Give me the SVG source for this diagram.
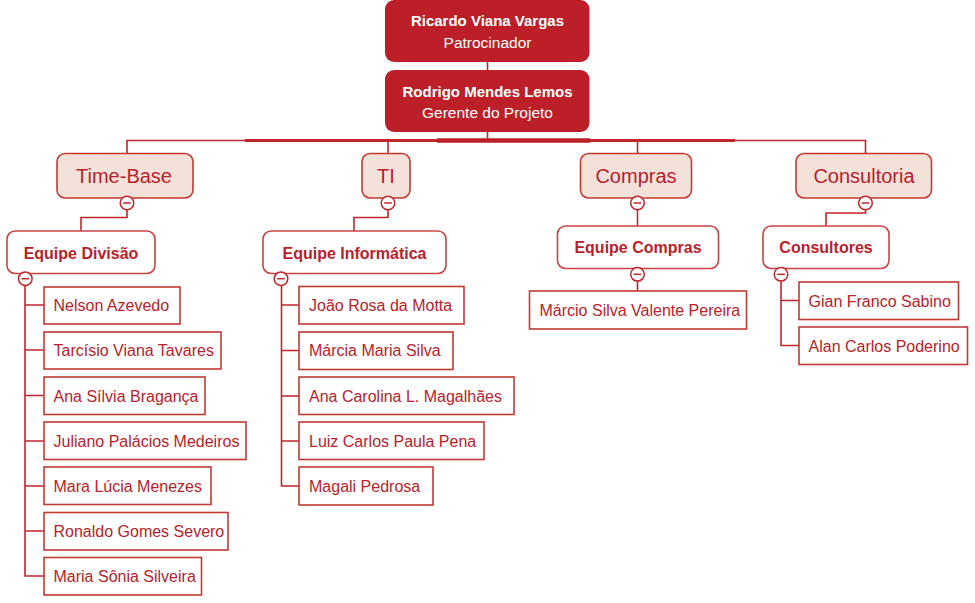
<svg xmlns="http://www.w3.org/2000/svg" width="975" height="603" viewBox="0 0 975 603">
<style>
text{font-family:"Liberation Sans",Arial,sans-serif}
.top rect{fill:#bc1f27;stroke:none}
.top text{fill:#fff;text-anchor:middle}
.tb{font-size:15px;font-weight:bold}
.tr{font-size:15.5px}
.l2 rect{fill:#f4e1da;stroke:#c23a32;stroke-width:1.6}
.l2 text{fill:#b8222a;font-size:20px;text-anchor:middle}
.l3 rect{fill:#fff;stroke:#c94444;stroke-width:1.6}
.l3 text{fill:#b8222a;font-size:16px;font-weight:bold;text-anchor:middle}
.leaf rect{fill:#fff;stroke:#c23a32;stroke-width:1.6}
.leaf text{fill:#b8222a;font-size:16px}
.ln{fill:none;stroke:#c0262c;stroke-width:1.6}
.tg{fill:#fff;stroke:#c0262c;stroke-width:1.5}
</style>
<defs>
<g id="minus"><circle r="6.8"/><path d="M-3.8 0H3.8"/></g>
</defs>
<g id="connectors">
<path class="ln" d="M487.5 62V70"/>
<path class="ln" d="M487.5 132V140"/>
<path class="ln" d="M127 153V140.5H865.5V153" stroke-width="2"/>
<path d="M245 140.5H735" stroke="#c0262c" stroke-width="3.2"/>
<path d="M437 140.5H590" stroke="#bc1f27" stroke-width="4.5"/>
<path class="ln" d="M388 140V153"/>
<path class="ln" d="M637.5 140V153"/>
<path class="ln" d="M127 210V217.5H81V231"/>
<path class="ln" d="M388 210V217.5H354V231"/>
<path class="ln" d="M637.5 210V226"/>
<path class="ln" d="M865.5 210V213H826V226"/>
<path class="ln" d="M637.5 281V291"/>
<path class="ln" d="M25 285V576H44M25 305H44M25 350H44M25 395.5H44M25 441H44M25 486H44M25 531H44"/>
<path class="ln" d="M281.5 285V486H299M281.5 305H299M281.5 350.5H299M281.5 396H299M281.5 441H299"/>
<path class="ln" d="M781 281V345.5H799M781 300.5H799"/>
</g>
<g id="n-ricardo" class="top"><rect x="385" y="0" width="204.5" height="62" rx="9"/><text class="tb" x="487.5" y="26">Ricardo Viana Vargas</text><text class="tr" x="487.5" y="47.5">Patrocinador</text></g>
<g id="n-rodrigo" class="top"><rect x="385" y="70" width="204.5" height="62" rx="9"/><text class="tb" x="487.5" y="97">Rodrigo Mendes Lemos</text><text class="tr" x="487.5" y="117.5">Gerente do Projeto</text></g>
<g id="n-timebase" class="l2"><rect x="57" y="153.5" width="136" height="44.5" rx="8"/><text x="124" y="182.5">Time-Base</text></g>
<g id="n-ti" class="l2"><rect x="362" y="153.5" width="48" height="44.5" rx="8"/><text x="386" y="182.5">TI</text></g>
<g id="n-compras" class="l2"><rect x="580.5" y="153.5" width="111" height="44.5" rx="8"/><text x="636" y="182.5">Compras</text></g>
<g id="n-consultoria" class="l2"><rect x="796" y="153.5" width="135.5" height="44.5" rx="8"/><text x="864" y="182.5">Consultoria</text></g>
<g id="n-equipe-divisao" class="l3"><rect x="7" y="231" width="148" height="42.5" rx="8"/><text x="81" y="258.5">Equipe Divisão</text></g>
<g id="n-equipe-informatica" class="l3"><rect x="263" y="231" width="183" height="42.5" rx="8"/><text x="354.5" y="258.5">Equipe Informática</text></g>
<g id="n-equipe-compras" class="l3"><rect x="557.5" y="226" width="161" height="42.5" rx="8"/><text x="638" y="253">Equipe Compras</text></g>
<g id="n-consultores" class="l3"><rect x="763" y="226" width="126" height="42.5" rx="8"/><text x="826" y="253">Consultores</text></g>
<g id="toggles" class="tg">
<use href="#minus" x="127" y="203"/>
<use href="#minus" x="388" y="203"/>
<use href="#minus" x="637.5" y="203"/>
<use href="#minus" x="865.5" y="203"/>
<use href="#minus" x="25.3" y="278.7"/>
<use href="#minus" x="281" y="278.7"/>
<use href="#minus" x="637.5" y="274.3"/>
<use href="#minus" x="781" y="274.3"/>
</g>
<g id="n-nelson" class="leaf"><rect x="44" y="287" width="136" height="37"/><text x="53.5" y="311">Nelson Azevedo</text></g>
<g id="n-tarcisio" class="leaf"><rect x="44" y="332" width="177" height="37"/><text x="53.5" y="356">Tarcísio Viana Tavares</text></g>
<g id="n-ana-silvia" class="leaf"><rect x="44" y="377" width="161" height="37.5"/><text x="53.5" y="401.5">Ana Sílvia Bragança</text></g>
<g id="n-juliano" class="leaf"><rect x="44" y="422" width="202" height="37.5"/><text x="53.5" y="446.5">Juliano Palácios Medeiros</text></g>
<g id="n-mara" class="leaf"><rect x="44" y="467" width="167" height="37.5"/><text x="53.5" y="491.5">Mara Lúcia Menezes</text></g>
<g id="n-ronaldo" class="leaf"><rect x="44" y="512.5" width="184" height="37.5"/><text x="53.5" y="536.5">Ronaldo Gomes Severo</text></g>
<g id="n-maria" class="leaf"><rect x="44" y="557.5" width="157.5" height="37.5"/><text x="53.5" y="582">Maria Sônia Silveira</text></g>
<g id="n-joao" class="leaf"><rect x="299" y="286.5" width="165" height="37.5"/><text x="309" y="311">João Rosa da Motta</text></g>
<g id="n-marcia" class="leaf"><rect x="299" y="332" width="154" height="37.5"/><text x="309" y="356">Márcia Maria Silva</text></g>
<g id="n-ana-carolina" class="leaf"><rect x="299" y="377" width="215" height="37.5"/><text x="309" y="401.5">Ana Carolina L. Magalhães</text></g>
<g id="n-luiz" class="leaf"><rect x="299" y="422" width="185" height="37.5"/><text x="309" y="446.5">Luiz Carlos Paula Pena</text></g>
<g id="n-magali" class="leaf"><rect x="299" y="467" width="134" height="38"/><text x="309" y="491.5">Magali Pedrosa</text></g>
<g id="n-marcio" class="leaf"><rect x="529.5" y="291" width="217" height="38"/><text x="539.5" y="315.5">Márcio Silva Valente Pereira</text></g>
<g id="n-gian" class="leaf"><rect x="799" y="282" width="159.5" height="37.5"/><text x="808.5" y="306.5">Gian Franco Sabino</text></g>
<g id="n-alan" class="leaf"><rect x="799" y="327" width="168.5" height="37.5"/><text x="808.5" y="351.5">Alan Carlos Poderino</text></g>
</svg>
